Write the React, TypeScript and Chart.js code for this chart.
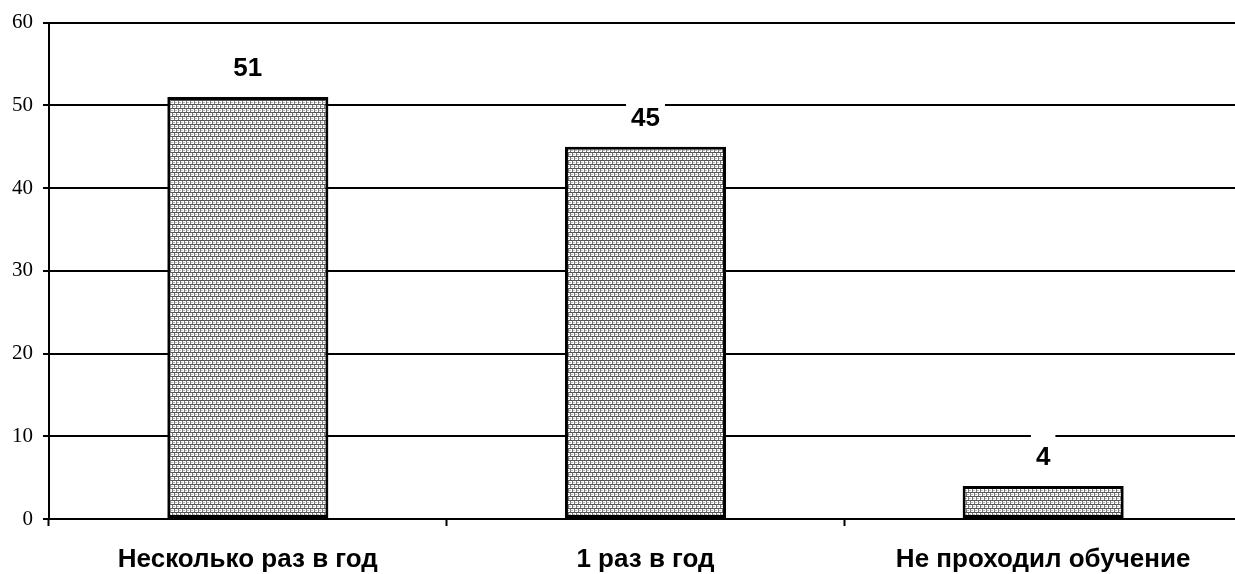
import React, { useEffect, useRef } from "react";
import { Chart, registerables } from "chart.js";

Chart.register(...registerables);

const categories: string[] = ["Несколько раз в год", "1 раз в год", "Не проходил обучение"];
const values: number[] = [51, 45, 4];
const yTicks: number[] = [0, 10, 20, 30, 40, 50, 60];

function makePattern(): CanvasPattern | string {
  const c = document.createElement("canvas");
  c.width = 4;
  c.height = 8;
  const g = c.getContext("2d");
  if (!g) return "#999";
  g.fillStyle = "#ffffff";
  g.fillRect(0, 0, 4, 8);
  g.fillStyle = "#555555";
  g.fillRect(0, 0, 4, 1);
  g.fillRect(0, 4, 4, 1);
  g.fillStyle = "#7a7a7a";
  g.fillRect(0, 1, 1, 3);
  g.fillRect(2, 5, 1, 3);
  g.fillStyle = "#b8b8b8";
  g.fillRect(1, 2, 1, 1);
  g.fillRect(3, 6, 1, 1);
  g.fillRect(2, 2, 1, 1);
  g.fillRect(0, 6, 1, 1);
  const p = g.createPattern(c, "repeat");
  return p || "#999";
}

const labelPlugin = {
  id: "valueLabels",
  afterDatasetsDraw(chart: any) {
    const ctx = chart.ctx;
    const meta = chart.getDatasetMeta(0);
    ctx.save();
    ctx.font = "bold 26px 'Liberation Sans', Arial, sans-serif";
    ctx.textAlign = "center";
    ctx.textBaseline = "middle";
    meta.data.forEach((bar: any, i: number) => {
      const text = String(values[i]);
      const cx = bar.x;
      const cy = bar.y - 29;
      const w = ctx.measureText(text).width + 10;
      const h = 48;
      ctx.fillStyle = "#ffffff";
      ctx.fillRect(cx - w / 2, cy - h / 2, w, h);
      ctx.fillStyle = "#000000";
      ctx.fillText(text, cx, cy + 1);
    });
    ctx.restore();
  },
};

export default function App() {
  const ref = useRef<HTMLCanvasElement | null>(null);

  useEffect(() => {
    document.body.style.margin = "0";
    document.body.style.overflow = "hidden";
    if (!ref.current) return;
    const chart = new Chart(ref.current, {
      type: "bar",
      data: {
        labels: categories,
        datasets: [
          {
            data: values,
            backgroundColor: makePattern() as any,
            borderColor: "#000000",
            borderWidth: 3,
            borderSkipped: false,
            barPercentage: 0.405,
            categoryPercentage: 1,
          },
        ],
      },
      options: {
        animation: false,
        responsive: false,
        maintainAspectRatio: false,
        layout: { padding: { top: 20, right: 0, left: 0, bottom: 0 } },
        plugins: { legend: { display: false }, tooltip: { enabled: false } },
        scales: {
          x: {
            offset: true,
            grid: {
              offset: true,
              drawOnChartArea: false,
              drawTicks: true,
              tickLength: 7,
              tickWidth: 2,
              tickColor: "#000000",
            },
            border: { display: true, color: "#000000", width: 2 },
            ticks: {
              color: "#000000",
              padding: 18,
              maxRotation: 0,
              font: { family: "'Liberation Sans', Arial, sans-serif", size: 26, weight: "bold" },
            },
            afterFit: (scale: any) => {
              scale.height = 55;
            },
          },
          y: {
            min: 0,
            max: 60,
            afterBuildTicks: (scale: any) => {
              scale.ticks = yTicks.map((v) => ({ value: v }));
            },
            grid: {
              color: "#000000",
              lineWidth: 2,
              drawTicks: true,
              tickLength: 6,
              tickColor: "#000000",
            },
            border: { display: true, color: "#000000", width: 2 },
            ticks: {
              color: "#000000",
              padding: 10,
              font: { family: "'Liberation Serif', 'Times New Roman', serif", size: 21 },
            },
            afterFit: (scale: any) => {
              scale.width = 49;
            },
          },
        },
      },
      plugins: [labelPlugin],
    });
    return () => chart.destroy();
  }, []);

  return (
    <div style={{ position: "fixed", left: 0, top: 0, width: 1235, height: 574, overflow: "hidden", background: "#fff" }}>
      <canvas ref={ref} width={1242} height={574} style={{ width: 1242, height: 574, display: "block" }} />
    </div>
  );
}
